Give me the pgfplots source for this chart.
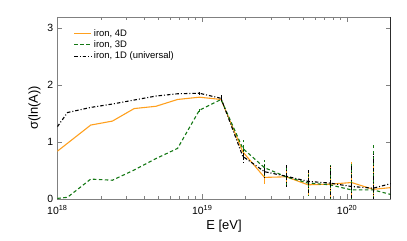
\documentclass[border=0pt]{standalone}
\usepackage{pgfplots}
\pgfplotsset{compat=1.18}
\usepackage{fontspec}
\setmainfont{Liberation Sans}
\definecolor{myorange}{RGB}{255,160,30}
\definecolor{mygreen}{RGB}{20,120,20}
\definecolor{axgray}{RGB}{128,128,128}
\begin{document}
\begin{tikzpicture}
\useasboundingbox (0,0) rectangle (407bp,241bp);
\begin{axis}[
  at={(57.3bp,42bp)}, anchor=south west,
  scale only axis, width=333.4bp, height=182bp,
  xmode=log, xmin=1e18, xmax=2e20, ymin=0, ymax=3.2,
  xtick={1e18,1e19,1e20},
  xticklabels={10\textsuperscript{18},10\textsuperscript{19},10\textsuperscript{20}},
  minor xtick={2e18,3e18,4e18,5e18,6e18,7e18,8e18,9e18,2e19,3e19,4e19,5e19,6e19,7e19,8e19,9e19,2e20},
  ytick={0,1,2,3},
  /pgf/number format/assume math mode=true,
  tick label style={font=\fontsize{10.5}{12}\selectfont},
  xticklabel style={yshift=-2.5bp},
  yticklabel style={xshift=-0.5bp},
  label style={font=\fontsize{13}{15}\selectfont},
  xlabel={E [eV]}, ylabel={σ(ln(A))},
  xlabel style={yshift=1bp},
  axis line style={axgray, line width=1pt},
  tick style={axgray, line width=0.8pt},
  major tick length=5bp, minor tick length=3bp,
  legend style={draw=none, fill=none, at={(0.04,0.955)}, anchor=north west,
     font=\fontsize{9.5}{11}\selectfont, row sep=-1pt},
  legend cell align=left,
  error bars/y dir=both, error bars/y explicit, error bars/error mark=none,
]
\addplot[myorange, line width=1.1pt, solid] coordinates {
(1e18,0.84) (1.70e18,1.30) (2.40e18,1.37) (3.39e18,1.59) (4.79e18,1.63) (6.76e18,1.75) (9.55e18,1.79)
(1.349e19,1.75) +- (0,0.04) (1.905e19,0.83) +- (0,0.12) (2.69e19,0.38) +- (0,0.12) (3.80e19,0.39) +- (0,0.18)
(5.37e19,0.25) +- (0,0.2) (7.59e19,0.26) +- (0,0.3) (1.072e20,0.29) +- (0,0.36) (1.514e20,0.17) +- (0,0.5) (2.0e20,0.20)
};
\addlegendentry{iron, 4D}
\addplot[mygreen, line width=1.1pt, dash pattern=on 3.5pt off 2.5pt] coordinates {
(1e18,0.01) (1.175e18,0.03) (1.70e18,0.35) (2.40e18,0.33) (3.39e18,0.51) (4.79e18,0.71) (6.76e18,0.89) (9.55e18,1.56) +- (0,0.03)
(1.349e19,1.75) +- (0,0.05) (1.905e19,0.89) +- (0,0.14) (2.69e19,0.55) +- (0,0.14) (3.80e19,0.39) +- (0,0.21)
(5.37e19,0.28) +- (0,0.22) (7.59e19,0.25) +- (0,0.35) (1.072e20,0.16) +- (0,0.45) (1.514e20,0.16) +- (0,0.82) (2.0e20,0.08)
};
\addlegendentry{iron, 3D}
\addplot[black, line width=1.1pt, dash pattern=on 3.5pt off 2pt on 1pt off 2pt] coordinates {
(1e18,1.27) (1.175e18,1.52) (1.70e18,1.61) (2.40e18,1.67) (3.39e18,1.74) (4.79e18,1.81) (6.76e18,1.85) (9.55e18,1.86) +- (0,0.03)
(1.349e19,1.77) +- (0,0.05) (1.905e19,0.75) +- (0,0.14) (2.69e19,0.48) +- (0,0.12) (3.80e19,0.40) +- (0,0.19)
(5.37e19,0.31) +- (0,0.2) (7.59e19,0.28) +- (0,0.3) (1.072e20,0.22) +- (0,0.38) (1.514e20,0.19) +- (0,0.6) (2.0e20,0.27)
};
\addlegendentry{iron, 1D (universal)}
\draw[black, line width=1pt] (rel axis cs:1,0) -- (rel axis cs:1,1);
\end{axis}
\end{tikzpicture}
\end{document}
